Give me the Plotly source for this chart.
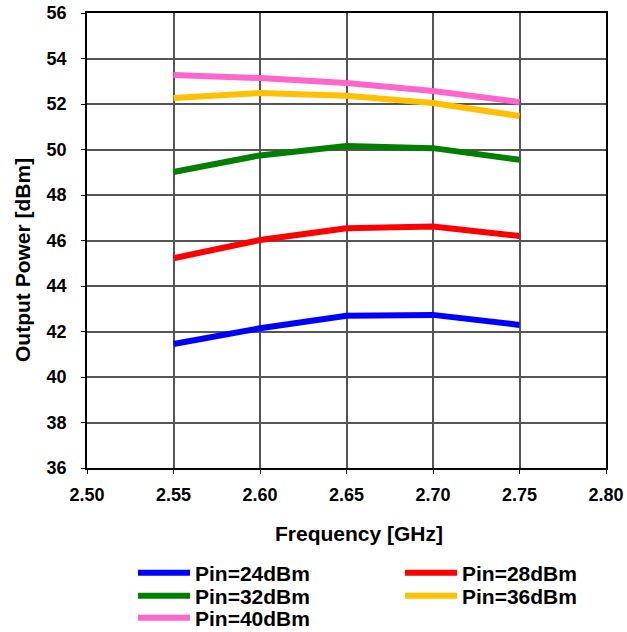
import plotly.graph_objects as go

freq = [2.55, 2.60, 2.65, 2.70, 2.75]
pin24 = [41.45, 42.14, 42.69, 42.73, 42.29]
pin28 = [45.22, 46.02, 46.54, 46.61, 46.20]
pin32 = [49.01, 49.74, 50.15, 50.06, 49.55]
pin36 = [52.26, 52.48, 52.36, 52.04, 51.47]
pin40 = [53.27, 53.14, 52.92, 52.57, 52.09]

names = ["Pin=24dBm", "Pin=28dBm", "Pin=32dBm", "Pin=36dBm", "Pin=40dBm"]
series = [pin24, pin28, pin32, pin36, pin40]
colors = ["#0000FF", "#FF0000", "#008000", "#FFC000", "#FF66CC"]
legend_ids = ["legend", "legend2", "legend3", "legend4", "legend5"]

x_title = "Frequency [GHz]"
y_title = "Output Power [dBm]"

fam = "Liberation Sans, Arial, sans-serif"

fig = go.Figure()
for n, s, c, lg in zip(names, series, colors, legend_ids):
    fig.add_trace(go.Scatter(x=freq, y=s, mode="lines", name=n, legend=lg,
                             line=dict(color=c, width=6)))

axis_common = dict(showline=True, linecolor="black", linewidth=1.5, mirror=True,
                   showgrid=True, gridcolor="#555555", gridwidth=1.5,
                   ticks="outside", ticklen=4, tickcolor="black", zeroline=False,
                   automargin=False,
                   tickfont=dict(family=fam, size=18, color="black", weight="bold"))

fig.update_xaxes(range=[2.50, 2.80], dtick=0.05, tickformat=".2f",
                 ticklabelstandoff=6, **axis_common)
fig.update_yaxes(range=[36, 56], dtick=2,
                 ticklabelstandoff=11, **axis_common)

L, R, T, B = 87, 21, 13, 164
W, H = 627, 632
plot_w = W - L - R
plot_h = H - T - B
bottom_px = H - B


def px_x(px):
    return (px - L) / plot_w


def px_y(px):
    return -(px - bottom_px) / plot_h


title_font = dict(family=fam, size=21, color="black", weight="bold")
annotations = [
    dict(text=x_title, xref="paper", yref="paper", x=px_x(359), y=px_y(533),
         xanchor="center", yanchor="middle", showarrow=False, font=title_font),
    dict(text=y_title, xref="paper", yref="paper", x=px_x(22), y=px_y(260),
         xanchor="center", yanchor="middle", showarrow=False, textangle=-90,
         font=title_font),
]

leg_common = dict(orientation="v", xanchor="left", yanchor="middle",
                  font=dict(family=fam, size=21, color="black", weight="bold"),
                  tracegroupgap=0, itemwidth=52, bgcolor="rgba(0,0,0,0)")

# legend slot positions (pixels) for each entry
leg_pos = [(133, 573), (400, 573), (133, 596), (400, 596), (133, 618)]
legends = {}
for lg, (lx, ly) in zip(legend_ids, leg_pos):
    legends[lg] = dict(x=px_x(lx), y=px_y(ly), **leg_common)

fig.update_layout(
    width=W, height=H,
    margin=dict(l=L, r=R, t=T, b=B, autoexpand=False),
    plot_bgcolor="white", paper_bgcolor="white",
    font=dict(family=fam, color="black"),
    showlegend=True,
    annotations=annotations,
    **legends,
)

fig.write_html("out.html", config={"displayModeBar": False},
               post_script="document.body.style.margin='0';document.body.style.padding='0';")
